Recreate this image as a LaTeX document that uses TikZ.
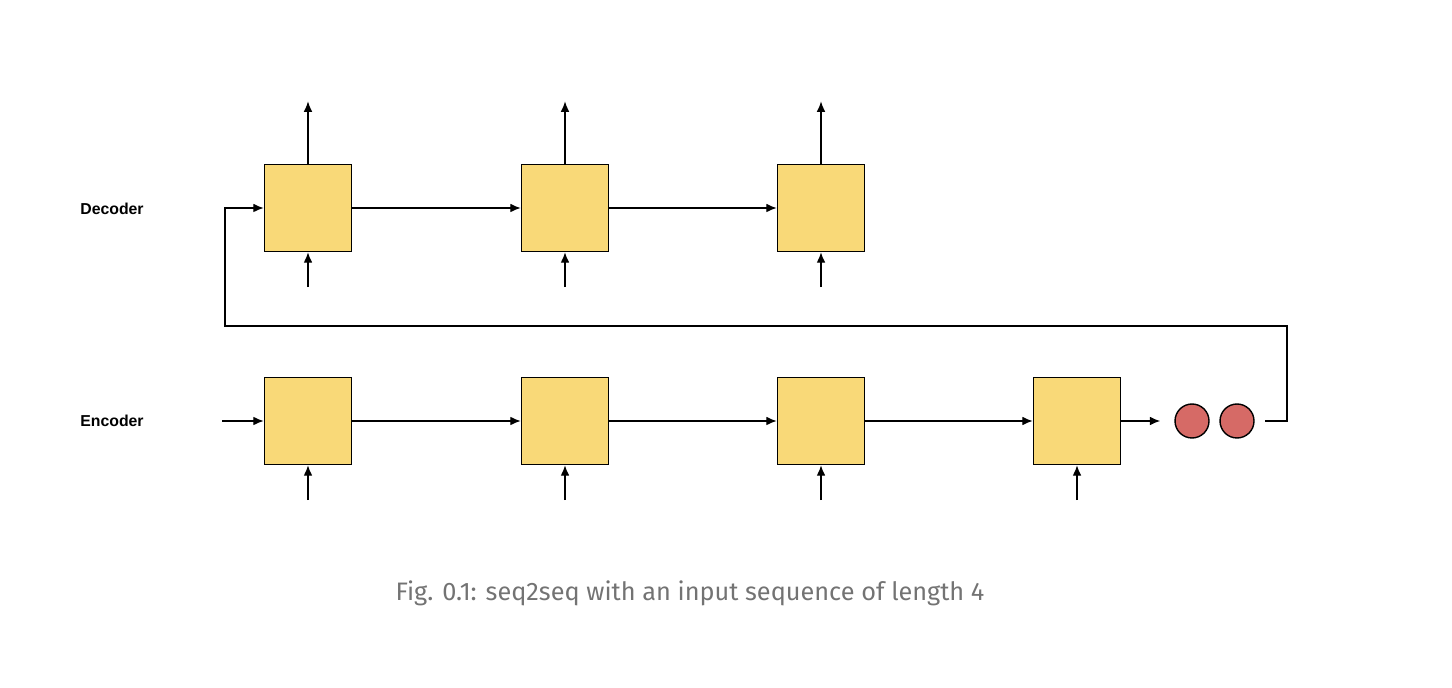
\documentclass[tikz,border=0pt]{standalone}
\usepackage{fontspec}
\setmainfont{Liberation Sans}
\newfontfamily\capfont{Fira Sans}
\usetikzlibrary{arrows.meta,positioning}
\definecolor{cellfill}{HTML}{F9D978}
\definecolor{dotfill}{HTML}{D66A66}
\begin{document}
\begin{tikzpicture}[x=0.02cm,y=-0.02cm,>={Latex[length=6pt,width=5pt]},thick,
  cell/.style={draw,fill=cellfill,minimum size=1.74cm,inner sep=0pt},
  dot/.style={circle,draw,fill=dotfill,minimum size=0.68cm,inner sep=0pt},
  lbl/.style={font=\bfseries\small}]
  \useasboundingbox (0,0) rectangle (1452,688);

  \node[lbl] at (112,209) {Decoder};
  \node[lbl] at (112,421) {Encoder};

  % decoder
  \node[cell] (d1) at (308,208) {};
  \node[cell] (d2) at (565,208) {};
  \node[cell] (d3) at (821,208) {};
  % encoder
  \node[cell] (e1) at (308,421) {};
  \node[cell] (e2) at (565,421) {};
  \node[cell] (e3) at (821,421) {};
  \node[cell] (e4) at (1077,421) {};
  \node[dot] (c1) at (1192,421) {};
  \node[dot] (c2) at (1237,421) {};

  \foreach \n in {d1,d2,d3} {
    \coordinate (\n t) at ([yshift=1.25cm]\n.north);
    \coordinate (\n b) at ([yshift=-0.7cm]\n.south);
    \draw[->] (\n.north) -- (\n t);
    \draw[->] (\n b) -- (\n.south);
  }
  \foreach \n in {e1,e2,e3,e4} {
    \coordinate (\n b) at ([yshift=-0.7cm]\n.south);
    \draw[->] (\n b) -- (\n.south);
  }

  \draw[->] (d1) -- (d2);
  \draw[->] (d2) -- (d3);
  \coordinate (ein) at (222,421);
  \draw[->] (ein) -- (e1);
  \draw[->] (e1) -- (e2);
  \draw[->] (e2) -- (e3);
  \draw[->] (e3) -- (e4);
  \draw[->] (e4) -- ([xshift=-0.28cm]c1.west);

  \coordinate (loop) at (1265,421);
  \draw[->] (loop) -- (1287,421) |- (225,326) |- (d1.west);

  \node[font=\capfont\Large,text=black!55] at (690,593)
    {Fig. 0.1: seq2seq with an input sequence of length 4};
\end{tikzpicture}
\end{document}
